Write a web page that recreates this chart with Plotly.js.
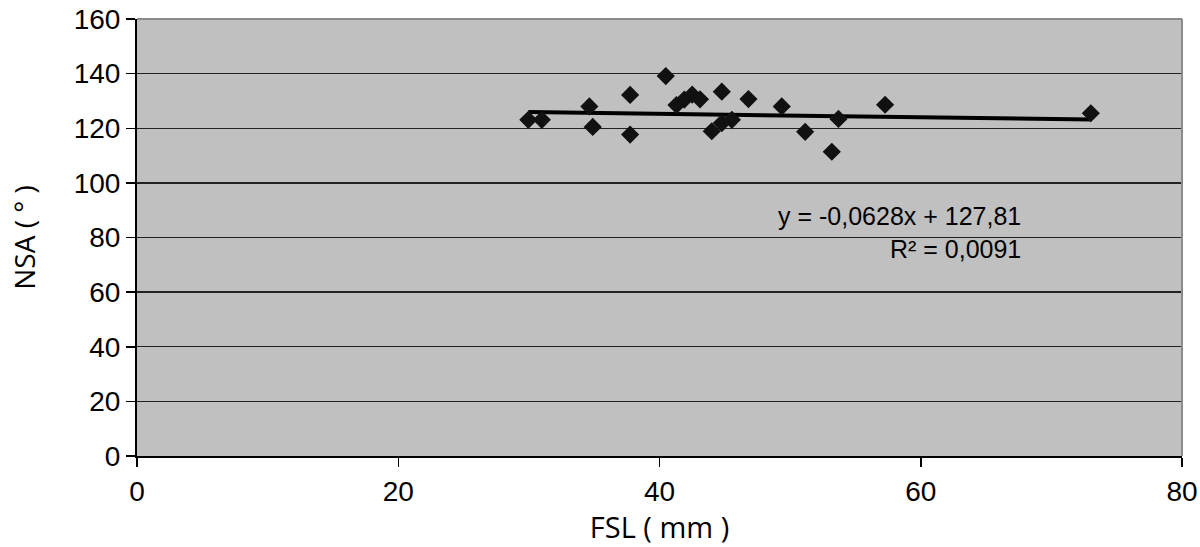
<!DOCTYPE html>
<html>
<head>
<meta charset="utf-8">
<script src="https://cdn.plot.ly/plotly-3.0.1.min.js"></script>
<style>html,body{margin:0;padding:0;background:#fff;}#chart{width:1200px;height:547px;}</style>
</head>
<body>
<div id="chart"></div>
<script>
// Data
const fsl = [29.96, 30.99, 34.63, 34.89, 37.75, 37.75, 40.48, 41.3, 41.9, 42.5, 43.1, 44.77, 44.0, 44.77, 45.54, 46.81, 49.36, 51.15, 53.70, 53.19, 57.27, 73.02];
const nsa = [123.1, 123.1, 128.0, 120.5, 132.2, 117.7, 139.1, 128.5, 130.5, 132.3, 130.6, 133.4, 118.9, 121.9, 123.1, 130.7, 128.0, 118.7, 123.4, 111.4, 128.6, 125.5];
// Linear trend line as printed on the chart
const trendSlope = -0.0628;
const trendIntercept = 127.81;
const trendLabel = ["y = -0,0628x + 127,81", "R² = 0,0091"];
const xTicks = [0, 20, 40, 60, 80];
const yTicks = [0, 20, 40, 60, 80, 100, 120, 140, 160];

const xMin = Math.min(...fsl), xMax = Math.max(...fsl);
const trendX = [xMin, xMax];
const trendY = trendX.map(v => trendSlope * v + trendIntercept);

const font = {family: "Liberation Sans, Arial, sans-serif", color: "#000"};
const titleFont = {family: "Open Sans, Liberation Sans, sans-serif", color: "#000"};

const traces = [
  {
    x: trendX, y: trendY, type: "scatter", mode: "lines",
    line: {color: "#000", width: 4}, hoverinfo: "skip"
  },
  {
    x: fsl, y: nsa, type: "scatter", mode: "markers",
    marker: {symbol: "diamond", size: 14, color: "#111"}
  }
];

const layout = {
  width: 1200, height: 547,
  margin: {l: 137, r: 18, t: 19, b: 91},
  paper_bgcolor: "#fff",
  plot_bgcolor: "#c0c0c0",
  showlegend: false,
  font: Object.assign({size: 28}, font),
  xaxis: {
    range: [0, 80], tickvals: xTicks, ticktext: xTicks.map(String),
    showgrid: false, zeroline: false,
    showline: true, linecolor: "#000", linewidth: 2,
    ticks: "outside", ticklen: 9, tickcolor: "#000", tickwidth: 1.5,
    tickfont: Object.assign({size: 28}, font),
    title: {text: "FSL ( mm )", font: Object.assign({size: 29}, titleFont), standoff: 4}
  },
  yaxis: {
    range: [0, 160], tickvals: yTicks, ticktext: yTicks.map(String),
    showgrid: true, gridcolor: "#222", gridwidth: 1.3,
    zeroline: false,
    showline: true, linecolor: "#000", linewidth: 2,
    ticks: "outside", ticklen: 9, tickcolor: "#000", tickwidth: 1.5,
    tickfont: Object.assign({size: 28}, font),
    title: {text: "NSA ( ° )", font: Object.assign({size: 28}, titleFont), standoff: 30}
  },
  shapes: [
    {type: "line", xref: "paper", yref: "paper", x0: 0, x1: 1, y0: 1, y1: 1, line: {color: "#8a8a8a", width: 2}},
    {type: "line", xref: "paper", yref: "paper", x0: 1, x1: 1, y0: 0, y1: 1, line: {color: "#8a8a8a", width: 2}}
  ],
  annotations: [
    {
      x: 67.85, y: 82, xref: "x", yref: "y",
      xanchor: "right", yanchor: "middle", align: "right",
      text: trendLabel.join("<br>"), showarrow: false,
      font: Object.assign({size: 25}, font)
    }
  ]
};

Plotly.newPlot("chart", traces, layout, {displayModeBar: false, staticPlot: true});
</script>
</body>
</html>
